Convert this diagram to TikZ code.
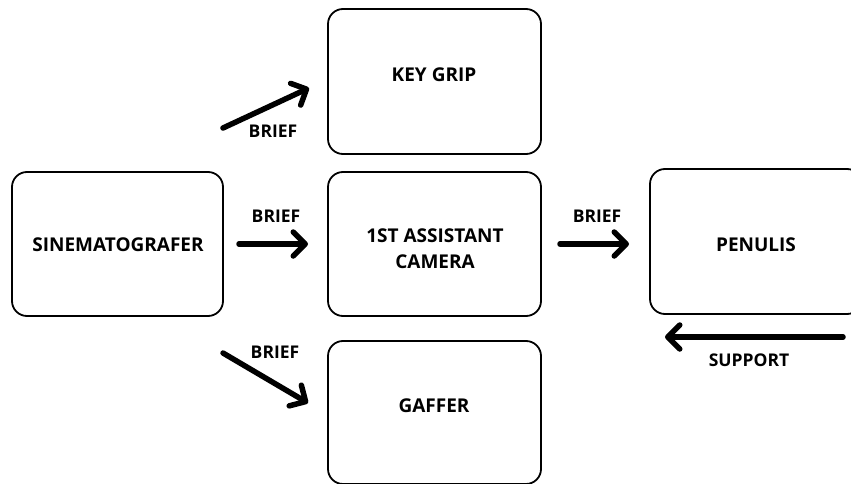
\documentclass[tikz,border=0pt]{standalone}
\usepackage{fontspec}
\setmainfont{Open Sans}
\usetikzlibrary{arrows.meta}
\begin{document}
\begin{tikzpicture}[x=1pt,y=-1pt,
  box/.style={draw=black, line width=1.8pt, rounded corners=15pt, inner sep=0pt},
  txt/.style={font=\bfseries\fontsize{19}{26}\selectfont, align=center, inner sep=0pt},
  lbl/.style={font=\bfseries\fontsize{17.5}{20}\selectfont, inner sep=0pt},
  arr/.style={line width=5.5pt, line cap=round, -{Straight Barb[length=12pt,width=24pt,line cap=round,line join=round]}}]
\useasboundingbox (0,0) rectangle (851,484);
\clip (0,0) rectangle (851,484);
\fill[white] (0,0) rectangle (851,484);
% boxes
\node[box, minimum width=211pt, minimum height=144pt] (sin) at (117.5,244) {};
\node[box, minimum width=213pt, minimum height=145pt] (key) at (434.5,81.5) {};
\node[box, minimum width=213pt, minimum height=144pt] (cam) at (434.5,244) {};
\node[box, minimum width=213pt, minimum height=143pt] (gaf) at (434.5,412.5) {};
\node[box, minimum width=212pt, minimum height=145pt] (pen) at (756,241.5) {};
% texts
\node[txt] (tsin) at (118,245) {SINEMATOGRAFER};
\node[txt] (tkey) at (434,75) {KEY GRIP};
\node[txt] (tcam) at (435,249) {1ST ASSISTANT\\CAMERA};
\node[txt] (tgaf) at (434,406) {GAFFER};
\node[txt] (tpen) at (756,245) {PENULIS};
% labels
\node[lbl] (l1) at (273,131) {BRIEF};
\node[lbl] (l2) at (276,216) {BRIEF};
\node[lbl] (l3) at (597,216) {BRIEF};
\node[lbl] (l4) at (275,352) {BRIEF};
\node[lbl] (l5) at (749,360) {SUPPORT};
% arrow ends
\coordinate (a1s) at (223,128); \coordinate (a1e) at (309,88);
\coordinate (a2s) at (239,244); \coordinate (a2e) at (308,244);
\coordinate (a3s) at (560,244); \coordinate (a3e) at (629,244);
\coordinate (a4s) at (223,353); \coordinate (a4e) at (308,403);
\coordinate (a5s) at (843,337); \coordinate (a5e) at (665,337);
\draw[arr] (a1s) -- (a1e);
\draw[arr] (a2s) -- (a2e);
\draw[arr] (a3s) -- (a3e);
\draw[arr] (a4s) -- (a4e);
\draw[arr] (a5s) -- (a5e);
\end{tikzpicture}
\end{document}
